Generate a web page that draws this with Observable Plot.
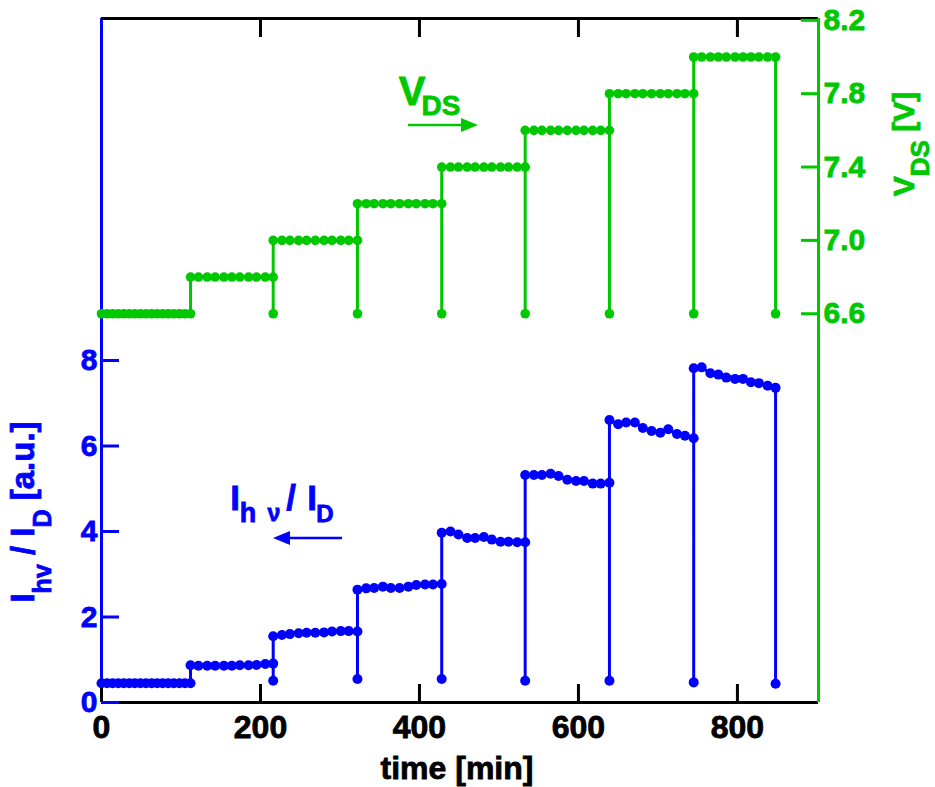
<!DOCTYPE html>
<html><head><meta charset="utf-8">
<script src="https://cdn.jsdelivr.net/npm/d3@7"></script>
<script src="https://cdn.jsdelivr.net/npm/@observablehq/plot@0.6"></script>
<style>
body{margin:0;background:#fff;}
#wrap{position:relative;width:935px;height:787px;background:#fff;}
#wrap svg{position:absolute;left:0;top:0;}
#wrap tspan{font-weight:bold;}
</style></head><body><div id="wrap"></div>
<script>
// ---- data ----
const stepTimes = [
  [0, 7, 14, 21, 28, 35, 42, 49, 56, 63, 70, 77, 84, 91, 98, 105, 112],
  [112, 122, 133, 143, 154, 164, 174, 185, 195, 206, 216],
  [216, 227, 237, 248, 258, 269, 280, 290, 301, 311, 322],
  [322, 333, 343, 354, 364, 375, 386, 396, 407, 417, 428],
  [428, 439, 449, 460, 470, 481, 491, 502, 512, 523, 533],
  [533, 544, 554, 565, 575, 586, 597, 607, 618, 628, 639],
  [639, 650, 660, 671, 681, 692, 703, 713, 724, 734, 745],
  [745, 755, 766, 776, 786, 797, 807, 817, 827, 838, 848]
];
const intensitySteps = [
  [0.45, 0.45, 0.45, 0.45, 0.45, 0.45, 0.45, 0.45, 0.45, 0.45, 0.45, 0.45, 0.45, 0.45, 0.45, 0.45, 0.45],
  [0.87, 0.86, 0.86, 0.86, 0.86, 0.86, 0.87, 0.87, 0.88, 0.90, 0.91],
  [1.55, 1.58, 1.60, 1.62, 1.63, 1.63, 1.64, 1.66, 1.67, 1.67, 1.66],
  [2.64, 2.67, 2.68, 2.71, 2.68, 2.68, 2.71, 2.75, 2.76, 2.76, 2.77],
  [3.97, 4.00, 3.93, 3.85, 3.85, 3.87, 3.81, 3.76, 3.76, 3.75, 3.75],
  [5.32, 5.32, 5.32, 5.35, 5.30, 5.21, 5.18, 5.18, 5.12, 5.12, 5.14],
  [6.61, 6.51, 6.55, 6.55, 6.42, 6.35, 6.31, 6.39, 6.28, 6.24, 6.18],
  [7.82, 7.84, 7.70, 7.67, 7.60, 7.57, 7.57, 7.49, 7.47, 7.41, 7.36]
];
const vdsLevels = [6.6, 6.8, 7.0, 7.2, 7.4, 7.6, 7.8, 8.0];
const resetTimes = [216, 322, 428, 533, 639, 745, 848];
const resetIntensity = [0.51, 0.55, 0.55, 0.51, 0.51, 0.47, 0.44];
const resetVds = [6.6, 6.6, 6.6, 6.6, 6.6, 6.6, 6.6];

const timeTicks = [0, 200, 400, 600, 800];
const topTicks = [200, 400, 600, 800];
const intensityTicks = [0, 2, 4, 6, 8];
const vdsTicks = [6.6, 7.0, 7.4, 7.8, 8.2];
const timeDomain = [0, 902];
const intensityDomain = [0, 16];
const vdsDomain = [4.48, 8.21];

const BLUE = "#0000ff";
const GREEN = "#00c800";
const FONT = '"Liberation Sans", Arial, Helvetica, sans-serif';

// ---- ordered rows: each step, then the reset measurement at the switching time ----
const blueRows = [], greenRows = [];
stepTimes.forEach((ts, k) => {
  ts.forEach((t, i) => {
    blueRows.push({time: t, value: intensitySteps[k][i]});
    greenRows.push({time: t, value: vdsLevels[k]});
  });
  if (k >= 1) {
    blueRows.push({time: resetTimes[k - 1], value: resetIntensity[k - 1]});
    greenRows.push({time: resetTimes[k - 1], value: resetVds[k - 1]});
  }
});

const common = {
  width: 935, height: 787,
  marginLeft: 101, marginRight: 117, marginTop: 18, marginBottom: 85,
  style: {fontFamily: FONT, fontWeight: "bold", background: "transparent", overflow: "visible"}
};

const p1 = Plot.plot({
  ...common,
  x: {domain: timeDomain, axis: null, label: null},
  y: {domain: intensityDomain, axis: null, label: null},
  marks: [
    Plot.ruleX([timeDomain[0]], {stroke: BLUE, strokeWidth: 3}),
    Plot.ruleY([intensityDomain[0]], {stroke: "black", strokeWidth: 3}),
    Plot.ruleY([intensityDomain[1]], {stroke: "black", strokeWidth: 3}),
    Plot.axisX(timeTicks, {anchor: "bottom", tickSize: -18, tickPadding: 31, strokeWidth: 3, color: "black", fontSize: 32, label: null}),
    Plot.axisX(topTicks, {anchor: "top", tickSize: -18, tickFormat: () => "", strokeWidth: 3, color: "black", label: null}),
    Plot.axisY(intensityTicks, {anchor: "left", tickSize: -18, tickPadding: 22, strokeWidth: 3, color: BLUE, fontSize: 30, label: null}),
    Plot.line(blueRows, {x: "time", y: "value", stroke: BLUE, strokeWidth: 3}),
    Plot.dot(blueRows, {x: "time", y: "value", r: 5, fill: BLUE, stroke: null})
  ]
});

const p2 = Plot.plot({
  ...common,
  x: {domain: timeDomain, axis: null, label: null},
  y: {domain: vdsDomain, axis: null, label: null},
  marks: [
    Plot.ruleX([timeDomain[1]], {stroke: GREEN, strokeWidth: 3}),
    Plot.axisY(vdsTicks, {anchor: "right", tickSize: -18, tickPadding: 23, strokeWidth: 3, color: GREEN, fontSize: 30, tickFormat: d => d.toFixed(1), label: null}),
    Plot.line(greenRows, {x: "time", y: "value", stroke: GREEN, strokeWidth: 3}),
    Plot.dot(greenRows, {x: "time", y: "value", r: 4.8, fill: GREEN, stroke: null})
  ]
});

const wrap = document.getElementById("wrap");
wrap.appendChild(p1);
wrap.appendChild(p2);

// ---- annotations ----
const s1 = d3.select(p1), s2 = d3.select(p2);

// x axis title
s1.append("text").attr("x", 457).attr("y", 779).attr("text-anchor", "middle")
  .attr("fill", "black").style("font-size", "32px").style("font-weight", "bold").text("time [min]");

// left axis title
const yl = s1.append("text").attr("transform", "translate(34,512) rotate(-90)")
  .attr("text-anchor", "middle").attr("fill", BLUE)
  .style("font-size", "33px").style("font-weight", "bold").style("white-space", "pre");
yl.append("tspan").text("I");
yl.append("tspan").attr("dy", 17).style("font-size", "25px").text("hv");
yl.append("tspan").attr("dy", -17).text(" / I");
yl.append("tspan").attr("dy", 17).style("font-size", "25px").text("D");
yl.append("tspan").attr("dy", -17).text(" [a.u.]");

// right axis title
const vl = s2.append("text").attr("transform", "translate(914,144) rotate(-90)")
  .attr("text-anchor", "middle").attr("fill", GREEN)
  .style("font-size", "30px").style("font-weight", "bold").style("white-space", "pre");
vl.append("tspan").text("V");
vl.append("tspan").attr("dy", 15).style("font-size", "26px").text("DS");
vl.append("tspan").attr("dy", -15).text(" [V]");

// V_DS annotation with arrow to the right
const va = s2.append("text").attr("fill", GREEN).style("font-weight", "bold");
va.append("tspan").attr("x", 412).attr("y", 105).style("font-size", "40px").text("V");
va.append("tspan").attr("x", 441).attr("y", 115).style("font-size", "28px").text("DS");
s2.append("line").attr("x1", 408).attr("x2", 466).attr("y1", 125).attr("y2", 125)
  .attr("stroke", GREEN).attr("stroke-width", 2.5);
s2.append("path").attr("d", "M478,125L461,118L461,132Z").attr("fill", GREEN);

// I_hv / I_D annotation with arrow to the left
const ia = s1.append("text").attr("fill", BLUE).style("font-weight", "bold");
ia.append("tspan").attr("x", 235).attr("y", 510).style("font-size", "35px").text("I");
ia.append("tspan").attr("x", 248).attr("y", 522).style("font-size", "27px").text("h");
ia.append("tspan").attr("x", 274).attr("y", 521).style("font-size", "23px").text("ν");
ia.append("tspan").attr("x", 291).attr("y", 510).style("font-size", "35px").text("/");
ia.append("tspan").attr("x", 312).attr("y", 510).style("font-size", "35px").text("I");
ia.append("tspan").attr("x", 325).attr("y", 522).style("font-size", "24px").text("D");
s1.append("line").attr("x1", 285).attr("x2", 342).attr("y1", 538).attr("y2", 538)
  .attr("stroke", BLUE).attr("stroke-width", 2.5);
s1.append("path").attr("d", "M273,538L290,531L290,545Z").attr("fill", BLUE);

// heavier glyphs, like the reference's black-weight type
d3.selectAll("#wrap text").each(function () {
  const f = getComputedStyle(this).fill;
  d3.select(this).style("stroke", f).style("stroke-width", "0.8px").style("paint-order", "stroke");
});
</script>
</body></html>
